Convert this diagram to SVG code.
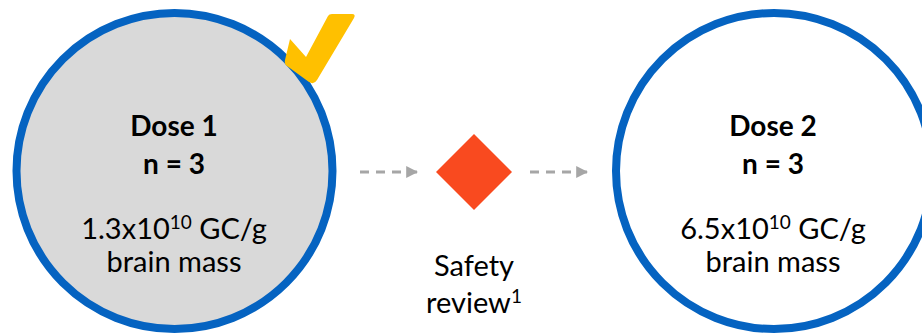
<svg xmlns="http://www.w3.org/2000/svg" width="922" height="335" viewBox="0 0 922 335">
  <defs>
    <style>
      .dose { stroke: #0563C1; stroke-width: 8; }
      .lbl { font-family: Lato, "Liberation Sans", sans-serif; font-size: 29px; fill: #000; text-anchor: middle; }
      .b { font-weight: bold; font-size: 28px; }
      .sup { font-size: 19px; }
      .flow { stroke: #A6A6A6; stroke-width: 3; stroke-dasharray: 9 7; fill: none; }
    </style>
    <marker id="arrow" viewBox="0 0 10 10" refX="9" refY="5" markerWidth="4" markerHeight="4" markerUnits="strokeWidth" orient="auto">
      <path d="M0,0 L10,5 L0,10 Z" fill="#A6A6A6"/>
    </marker>
  </defs>
  <rect width="922" height="335" fill="#FFFFFF"/>

  <g id="dose1">
    <circle class="dose" cx="174.5" cy="171" r="158" fill="#D9D9D9"/>
    <text class="lbl b" x="174" y="136">Dose 1</text>
    <text class="lbl b" x="174" y="174">n = 3</text>
    <text class="lbl" x="174" y="239">1.3x10<tspan class="sup" dy="-10">10</tspan><tspan dy="10"> GC/g</tspan></text>
    <text class="lbl" x="174" y="272">brain mass</text>
  </g>

  <g id="done-check">
    <path d="M290,39 L306,57 L328,16 Q329,14 332,14 L352,14 Q356,14 354,18 L317,80 Q314,85 309,82 L287,66 Q284,64 285,60 Z" fill="#FFC000"/>
  </g>

  <g id="safety-review">
    <polygon points="474,134 512,172 474,210 436,172" fill="#F94A1F"/>
    <text class="lbl" x="474" y="276">Safety</text>
    <text class="lbl" x="474" y="313">review<tspan class="sup" dy="-10">1</tspan></text>
  </g>

  <g id="dose2">
    <circle class="dose" cx="774" cy="171" r="158" fill="#FFFFFF"/>
    <text class="lbl b" x="773" y="136">Dose 2</text>
    <text class="lbl b" x="773" y="174">n = 3</text>
    <text class="lbl" x="773" y="239">6.5x10<tspan class="sup" dy="-10">10</tspan><tspan dy="10"> GC/g</tspan></text>
    <text class="lbl" x="773" y="272">brain mass</text>
  </g>

  <g id="connectors">
    <line class="flow" x1="360" y1="172" x2="417" y2="172" marker-end="url(#arrow)"/>
    <line class="flow" x1="530" y1="172" x2="587" y2="172" marker-end="url(#arrow)"/>
  </g>
</svg>
